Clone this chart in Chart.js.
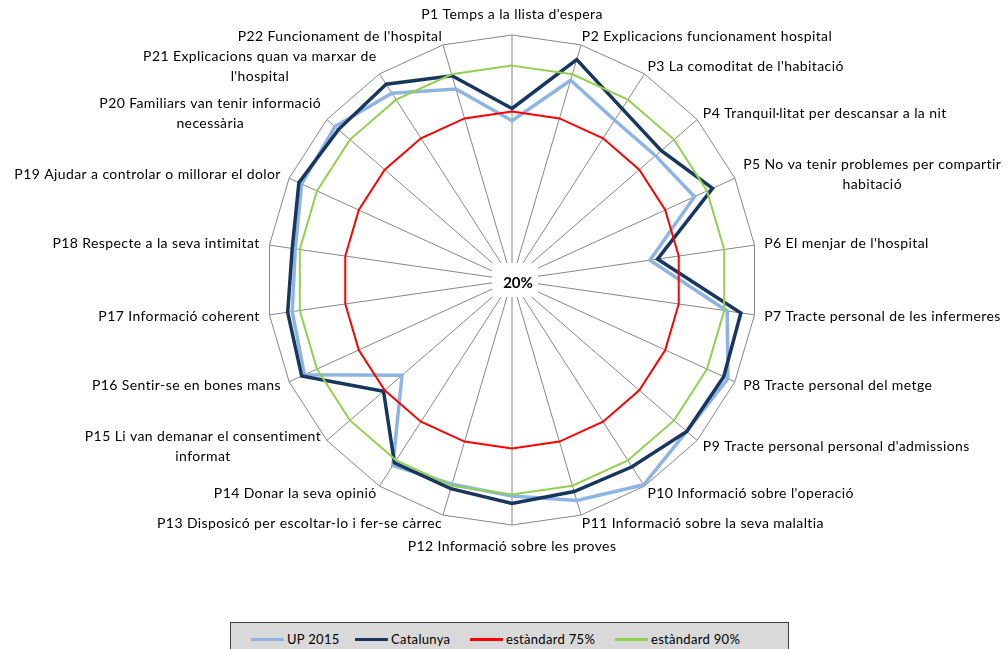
<!DOCTYPE html>
<html><head><meta charset="utf-8">
<script src="https://cdn.jsdelivr.net/npm/chart.js@4"></script>
<style>
html,body{margin:0;padding:0;background:#fff;}
#wrap{position:relative;width:1007px;height:649px;overflow:hidden;}
canvas{position:absolute;left:0;top:0;}
#legend{position:absolute;left:230px;top:622px;width:557px;height:40px;border:1px solid #404040;background:#d9d9d9;font-family:Lato,sans-serif;font-size:13px;letter-spacing:0.3px;color:#000;}
.item{position:absolute;top:8px;height:16px;display:flex;align-items:center;white-space:nowrap;}
.sw{width:33px;height:3px;margin-right:3px;}
</style></head>
<body><div id="wrap"><canvas id="c" width="1007" height="649"></canvas><div id="legend"></div></div>
<script>
const categories = [
  "P1 Temps a la llista d'espera",
  "P2 Explicacions funcionament hospital",
  "P3 La comoditat de l'habitació",
  "P4 Tranquil·litat per descansar a la nit",
  ["P5 No va tenir problemes per compartir", "habitació"],
  "P6 El menjar de l'hospital",
  "P7 Tracte personal de les infermeres",
  "P8 Tracte personal del metge",
  "P9 Tracte personal personal d'admissions",
  "P10 Informació sobre l'operació",
  "P11 Informació sobre la seva malaltia",
  "P12 Informació sobre les proves",
  "P13 Disposicó per escoltar-lo i fer-se càrrec",
  "P14 Donar la seva opinió",
  ["P15 Li van demanar el consentiment", "informat"],
  "P16 Sentir-se en bones mans",
  "P17 Informació coherent",
  "P18 Respecte a la seva intimitat",
  "P19 Ajudar a controlar o millorar el dolor",
  ["P20 Familiars van tenir informació", "necessària"],
  ["P21 Explicacions quan va marxar de", "l'hospital"],
  "P22 Funcionament de l'hospital"
];
const up2015    = [72, 88, 82, 82, 85.5, 65.5, 91, 97.5, 95.5, 99.5, 95, 90.5, 89.5, 92, 67.5, 94.5, 92.5, 91.5, 95.5, 96.5, 92.5, 85];
const catalunya = [76, 95, 86.5, 84.5, 92, 68, 95.5, 96, 95.5, 92.5, 92, 93, 91, 91, 75.5, 95.5, 94, 92.5, 96.5, 95, 96, 89.5];
const std75     = [75, 75, 75, 75, 75, 75, 75, 75, 75, 75, 75, 75, 75, 75, 75, 75, 75, 75, 75, 75, 75, 75];
const std90     = [90, 90, 90, 90, 90, 90, 90, 90, 90, 90, 90, 90, 90, 90, 90, 90, 90, 90, 90, 90, 90, 90];
const seriesNames = ["UP 2015", "Catalunya", "estàndard 75%", "estàndard 90%"];
const seriesColors = ["#8EB4E3", "#17375E", "#FF0000", "#92D050"];
const centerTickLabel = "20%";
const scaleMin = 20, scaleMax = 100;

// legend (HTML)
const legendLefts = [20, 124, 239, 384];
const legend = document.getElementById('legend');
seriesNames.forEach((n, i) => {
  const it = document.createElement('div');
  it.className = 'item';
  it.style.left = legendLefts[i] + 'px';
  it.innerHTML = '<div class="sw" style="background:' + seriesColors[i] + '"></div><span>' + n + '</span>';
  legend.appendChild(it);
});

const labelPlugin = {
  id: 'radarLabels',
  afterDraw(chart) {
    const s = chart.scales.r, ctx = chart.ctx;
    ctx.save();
    ctx.font = '14px Lato';
    if ('letterSpacing' in ctx) ctx.letterSpacing = '0.4px';
    ctx.fillStyle = '#000';
    ctx.textBaseline = 'middle';
    ctx.textAlign = 'center';
    const lh = 20;
    categories.forEach((lab, i) => {
      const lines = Array.isArray(lab) ? lab : [lab];
      const p = s.getPointPosition(i, s.drawingArea);
      const a = s.getIndexAngle(i);
      const dx = Math.sin(a), dy = -Math.cos(a);
      const bw = Math.max(...lines.map(l => ctx.measureText(l).width));
      const bh = lines.length * lh;
      let left, cy;
      if (Math.abs(dx) < 0.05) {
        left = p.x - bw / 2;
        cy = p.y + dy * (bh / 2 + 11);
      } else {
        const off = 10 * dx * dx;
        left = dx > 0 ? p.x + off : p.x - off - bw;
        cy = p.y + dy * 9;
      }
      lines.forEach((l, k) => ctx.fillText(l, left + bw / 2, cy - bh / 2 + lh * (k + 0.5)));
    });
    // center tick label
    if ('letterSpacing' in ctx) ctx.letterSpacing = '0px';
    ctx.fillStyle = '#fff';
    ctx.fillRect(s.xCenter - 20, s.yCenter - 17, 46, 34);
    ctx.fillStyle = '#000';
    ctx.font = 'bold 15px Lato';
    ctx.fillText(centerTickLabel, s.xCenter + 6, s.yCenter + 3);
    ctx.restore();
  }
};

function draw() {
  new Chart(document.getElementById('c'), {
    type: 'radar',
    data: {
      labels: categories,
      datasets: [
        { label: seriesNames[0], data: up2015, borderColor: seriesColors[0], borderWidth: 3.5, order: 3 },
        { label: seriesNames[1], data: catalunya, borderColor: seriesColors[1], borderWidth: 3.5, order: 2 },
        { label: seriesNames[2], data: std75, borderColor: seriesColors[2], borderWidth: 2, order: 1 },
        { label: seriesNames[3], data: std90, borderColor: seriesColors[3], borderWidth: 2, order: 0 }
      ].map(d => Object.assign(d, { fill: false, pointRadius: 0, pointHoverRadius: 0, tension: 0, borderJoinStyle: 'miter', backgroundColor: 'transparent' }))
    },
    options: {
      responsive: false,
      animation: false,
      devicePixelRatio: 1,
      layout: { padding: { left: 267, right: 250, top: 35, bottom: 124 } },
      plugins: { legend: { display: false }, tooltip: { enabled: false } },
      scales: {
        r: {
          min: scaleMin, max: scaleMax,
          ticks: { display: false, stepSize: 80 },
          grid: { color: '#868686', lineWidth: 1 },
          angleLines: { color: '#868686', lineWidth: 1 },
          pointLabels: { display: false }
        }
      }
    },
    plugins: [labelPlugin]
  });
}
Promise.all([document.fonts.load('14px Lato'), document.fonts.load('bold 15px Lato')]).then(draw, draw);
</script>
</body></html>
